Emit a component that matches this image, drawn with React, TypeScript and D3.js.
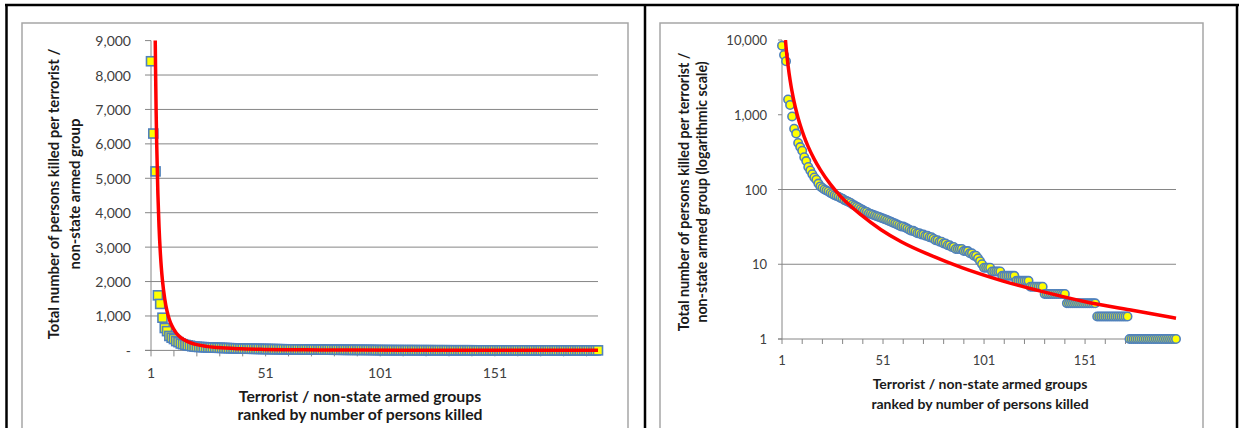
import * as d3 from "d3";

// colours
const C = {
  axis: "#868686", frame: "#a6a6a6", label: "#404040", title: "#1a1a1a",
  fill: "#ffff00", edge: "#4f81bd", trend: "#ff0000", rule: "#000",
};
const FONT = "Lato, 'Liberation Sans', Arial, sans-serif";

// persons killed per group, ranked
const KILLED = [
  8400, 6300, 5200, 1600, 1350, 950, 650, 560, 420, 370,
  330, 270, 240, 200, 180, 160, 145, 135, 120, 110,
  105, 100, 97, 94, 90, 87, 84, 82, 80, 77,
  75, 72, 70, 68, 66, 63, 61, 59, 57, 55,
  53, 51, 50, 48, 47, 46, 45, 44, 43, 42,
  41, 40, 39, 38, 37, 36, 35, 34, 33, 32,
  32, 31, 30, 29, 28, 28, 27, 26, 26, 25,
  25, 24, 24, 23, 23, 22, 21, 21, 20, 20,
  19, 19, 18, 18, 17, 17, 16, 16, 16, 16,
  15, 15, 15, 14, 14, 13, 13, 12, 11, 10,
  9, 9, 9, 9, 8, 8, 8, 8, 8,
  7, 7, 7, 7, 7, 7, 7,
  6, 6, 6, 6, 6, 6, 6,
  5, 5, 5, 5, 5, 5, 5,
  4, 4, 4, 4, 4, 4, 4, 4, 4, 4, 4,
  3, 3, 3, 3, 3, 3, 3, 3, 3, 3, 3, 3, 3, 3, 3,
  2, 2, 2, 2, 2, 2, 2, 2, 2, 2, 2, 2, 2, 2, 2, 2,
  1, 1, 1, 1, 1, 1, 1, 1, 1, 1, 1, 1, 1, 1, 1, 1, 1, 1, 1, 1, 1, 1, 1, 1,
];
const RANKS = KILLED.map((_, i) => i + 1);

// power trendline
const TREND_RANK = [2.7, 2.85, 3, 3.25, 3.5, 4, 4.5, 5, 5.5, 6, 7, 8, 9, 10, 12, 14, 17, 20, 25, 30, 40, 50, 60, 75, 90, 110, 130, 150, 175, 196];
const TREND_VALUE = [10000, 9000, 8100, 6900, 5960, 4560, 3600, 2920, 2410, 2030, 1490, 1140, 900, 730, 507, 372, 253, 183, 117, 81, 46, 29, 20, 13, 9, 6, 4.3, 3.2, 2.4, 1.9];

const X_TICKS = d3.range(1, 197, 10);
const X_LABELS = [1, 51, 101, 151];
const LIN_TICKS = [0, 1000, 2000, 3000, 4000, 5000, 6000, 7000, 8000, 9000];
const LIN_GRID = [1000, 2000, 3000, 4000, 5000, 6000, 7000, 8000];
const LOG_TICKS = [1, 10, 100, 1000, 10000];
const LOG_GRID = [10, 100];

const Y_TITLE_1 = "Total number of persons killed per terrorist /";
const Y_TITLE_LIN = "non-state armed group";
const Y_TITLE_LOG = "non-state armed group (logarithmic scale)";
const X_TITLE_1 = "Terrorist / non-state armed groups";
const X_TITLE_2 = "ranked by number of persons killed";

const fmt = d3.format(",");

function LinearChart() {
  const x = d3.scaleLinear().domain([1, 196]).range([151, 598]);
  const y = d3.scaleLinear().domain([0, 9000]).range([350.4, 40.6]);
  const [y0, y1] = y.range();
  const line = d3.line<number>()
    .x((_, i) => x(TREND_RANK[i]))
    .y(d => y(d))
    .curve(d3.curveMonotoneX);
  return (
    <g>
      <rect x={22} y={23} width={606} height={430} fill="#fff" stroke={C.frame} strokeWidth={1.5} />
      <defs>
        <clipPath id="clipLin"><rect x={140} y={y1} width={470} height={y0 - y1 + 8} /></clipPath>
      </defs>
      {LIN_GRID.map(v => (
        <line key={v} x1={x(1)} x2={x(196)} y1={y(v)} y2={y(v)} stroke={C.axis} strokeWidth={1} />
      ))}
      {LIN_TICKS.map(v => (
        <g key={v}>
          <line x1={x(1) - 6} x2={x(1)} y1={y(v)} y2={y(v)} stroke={C.axis} />
          <text x={131} y={y(v)} textAnchor="end" dominantBaseline="central" fontSize={14} fill={C.label} fontFamily={FONT}>
            {v === 0 ? "-" : fmt(v)}
          </text>
        </g>
      ))}
      <line x1={x(1)} x2={x(1)} y1={y1} y2={y0} stroke={C.axis} />
      <line x1={x(1) - 6} x2={x(196)} y1={y0} y2={y0} stroke={C.axis} />
      {X_TICKS.map(t => (
        <line key={t} x1={x(t)} x2={x(t)} y1={y0} y2={y0 + 6} stroke={C.axis} />
      ))}
      {X_LABELS.map(t => (
        <text key={t} x={x(t)} y={372} textAnchor="middle" dominantBaseline="central" fontSize={14} fill={C.label} fontFamily={FONT}>{t}</text>
      ))}
      {RANKS.map((r, i) => (
        <rect key={r} x={x(r) - 4.5} y={y(KILLED[i]) - 4.5} width={9} height={9} fill={C.fill} stroke={C.edge} strokeWidth={1.6} />
      ))}
      <path d={line(TREND_VALUE) || ""} fill="none" stroke={C.trend} strokeWidth={3.5} clipPath="url(#clipLin)" />
      <g fontFamily={FONT} fontWeight={700} fill={C.title}>
        <text transform="translate(53,194) rotate(-90)" textAnchor="middle" dominantBaseline="central" fontSize={14.8}>{Y_TITLE_1}</text>
        <text transform="translate(74,194) rotate(-90)" textAnchor="middle" dominantBaseline="central" fontSize={14.8}>{Y_TITLE_LIN}</text>
        <text x={360} y={395} textAnchor="middle" dominantBaseline="central" fontSize={15.8}>{X_TITLE_1}</text>
        <text x={360} y={413} textAnchor="middle" dominantBaseline="central" fontSize={15.8}>{X_TITLE_2}</text>
      </g>
    </g>
  );
}

function LogChart() {
  const x = d3.scaleLinear().domain([1, 196]).range([782, 1176]);
  const y = d3.scaleLog().domain([1, 10000]).range([339, 40]);
  const [y0, y1] = y.range();
  const line = d3.line<number>()
    .x((_, i) => x(TREND_RANK[i]))
    .y(d => y(d))
    .curve(d3.curveMonotoneX);
  return (
    <g>
      <rect x={660} y={23} width={543} height={430} fill="#fff" stroke={C.frame} strokeWidth={1.5} />
      <defs>
        <clipPath id="clipLog"><rect x={770} y={y1} width={420} height={y0 - y1 + 8} /></clipPath>
      </defs>
      {LOG_GRID.map(v => (
        <line key={v} x1={x(1)} x2={x(196)} y1={y(v)} y2={y(v)} stroke={C.axis} strokeWidth={1} />
      ))}
      {LOG_TICKS.map(v => (
        <g key={v}>
          <line x1={x(1) - 4} x2={x(1)} y1={y(v)} y2={y(v)} stroke={C.axis} />
          <text x={767} y={y(v)} textAnchor="end" dominantBaseline="central" fontSize={13} fill={C.label} fontFamily={FONT}>
            {fmt(v)}
          </text>
        </g>
      ))}
      <line x1={x(1)} x2={x(1)} y1={y1} y2={y0} stroke={C.axis} />
      <line x1={x(1) - 4} x2={x(196)} y1={y0} y2={y0} stroke={C.axis} />
      {X_TICKS.map(t => (
        <line key={t} x1={x(t)} x2={x(t)} y1={y0} y2={y0 + 5} stroke={C.axis} />
      ))}
      {X_LABELS.map(t => (
        <text key={t} x={x(t)} y={360} textAnchor="middle" dominantBaseline="central" fontSize={13} fill={C.label} fontFamily={FONT}>{t}</text>
      ))}
      {RANKS.map((r, i) => (
        <circle key={r} cx={x(r)} cy={y(KILLED[i])} r={4.2} fill={C.fill} stroke={C.edge} strokeWidth={1.6} />
      ))}
      <path d={line(TREND_VALUE) || ""} fill="none" stroke={C.trend} strokeWidth={3.5} clipPath="url(#clipLog)" />
      <g fontFamily={FONT} fontWeight={700} fill={C.title}>
        <text transform="translate(683,192) rotate(-90)" textAnchor="middle" dominantBaseline="central" fontSize={14.2}>{Y_TITLE_1}</text>
        <text transform="translate(701,192) rotate(-90)" textAnchor="middle" dominantBaseline="central" fontSize={14.2}>{Y_TITLE_LOG}</text>
        <text x={980} y={383} textAnchor="middle" dominantBaseline="central" fontSize={14}>{X_TITLE_1}</text>
        <text x={980} y={403} textAnchor="middle" dominantBaseline="central" fontSize={14}>{X_TITLE_2}</text>
      </g>
    </g>
  );
}

export default function App() {
  return (
    <svg width={1239} height={428} style={{ position: "absolute", left: 0, top: 0, background: "#fff" }}>
      <rect width={1239} height={428} fill="#fff" />
      <LinearChart />
      <LogChart />
      {/* table rules */}
      <line x1={5} x2={1239} y1={5} y2={5} stroke={C.rule} strokeWidth={2.5} />
      <line x1={6.5} x2={6.5} y1={4} y2={428} stroke={C.rule} strokeWidth={2.5} />
      <line x1={645} x2={645} y1={4} y2={428} stroke={C.rule} strokeWidth={2.5} />
      <line x1={1237} x2={1237} y1={4} y2={428} stroke={C.rule} strokeWidth={2.5} />
    </svg>
  );
}
